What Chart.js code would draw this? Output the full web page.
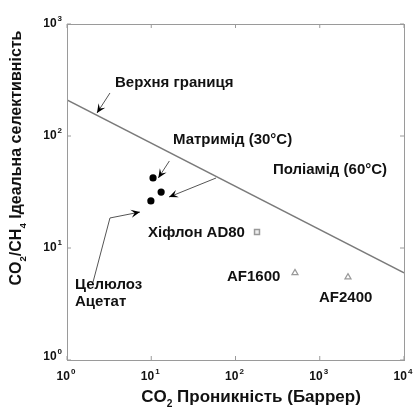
<!DOCTYPE html>
<html>
<head>
<meta charset="utf-8">
<script src="https://cdn.jsdelivr.net/npm/chart.js@4.4.1/dist/chart.umd.min.js"></script>
<style>
  body { margin: 0; background: #fff; }
  canvas { display: block; }
</style>
</head>
<body>
<canvas id="selChart" width="414" height="411"></canvas>
<script>
// data
var xTicks = [1, 10, 100, 1000, 10000];
var yTicks = [1, 10, 100, 1000];
var boundX = [1, 10000];            // Robeson upper bound
var boundY = [210, 6];
var dotX = [10.5, 13.1, 9.9];       // matrimid, polyimide, cellulose acetate
var dotY = [42.2, 31.6, 26.3];
var hyflonX = [180];
var hyflonY = [13.9];
var afX = [508, 2163];              // AF1600, AF2400
var afY = [6.0, 5.5];

// annotations in log10 units: text and arrows
var notes = [
  ['Верхня границя', 0.57, 2.473],
  ['Матримід (30°C)', 1.258, 1.964],
  ['Поліамід (60°C)', 2.445, 1.696],
  ['Хіфлон AD80', 0.961, 1.134],
  ['AF1600', 1.899, 0.741],
  ['AF2400', 2.991, 0.554],
  ['Целюлоз', 0.095, 0.670],
  ['Ацетат', 0.095, 0.518]
];
var arrows = [
  [[0.510, 2.384], [0.356, 2.205]],
  [[1.215, 1.777], [1.084, 1.625]],
  [[1.769, 1.625], [1.211, 1.455]],
  [[0.309, 0.696], [0.510, 1.268], [0.866, 1.321]]
];

var FONT = '"Liberation Sans", Arial, sans-serif';

function xy(points) {
  var xs = points[0], ys = points[1];
  return xs.map(function (v, i) { return { x: v, y: ys[i] }; });
}

function pow10Label(ctx, x, y, exp, align) {
  ctx.font = 'bold 12px ' + FONT;
  var w1 = ctx.measureText('10').width;
  ctx.font = 'bold 8px ' + FONT;
  var w2 = ctx.measureText(String(exp)).width;
  var start = align === 'right' ? x - w1 - w2 - 1 : x - (w1 + w2 + 1) / 2;
  ctx.textAlign = 'left';
  ctx.textBaseline = 'middle';
  ctx.font = 'bold 12px ' + FONT;
  ctx.fillText('10', start, y);
  ctx.font = 'bold 8px ' + FONT;
  ctx.fillText(String(exp), start + w1 + 1, y - 5);
}

// draws pieces like [['CO',0],['2',1],...] where 1 = subscript
function richText(ctx, parts, x, y, size) {
  var total = 0;
  parts.forEach(function (p) {
    ctx.font = 'bold ' + (p[1] ? size * 0.6 : size) + 'px ' + FONT;
    total += ctx.measureText(p[0]).width;
  });
  var cx = x - total / 2;
  ctx.textAlign = 'left';
  ctx.textBaseline = 'middle';
  parts.forEach(function (p) {
    ctx.font = 'bold ' + (p[1] ? size * 0.6 : size) + 'px ' + FONT;
    ctx.fillText(p[0], cx, p[1] ? y + size * 0.4 : y);
    cx += ctx.measureText(p[0]).width;
  });
}

function arrowHead(ctx, x0, y0, x1, y1) {
  var a = Math.atan2(y1 - y0, x1 - x0);
  var L = 9, W = 4;
  ctx.save();
  ctx.translate(x1, y1);
  ctx.rotate(a);
  ctx.beginPath();
  ctx.moveTo(0, 0);
  ctx.lineTo(-L, -W);
  ctx.lineTo(-L * 0.6, 0);
  ctx.lineTo(-L, W);
  ctx.closePath();
  ctx.fillStyle = '#000';
  ctx.fill();
  ctx.restore();
}

var decorPlugin = {
  id: 'decor',
  afterDraw: function (chart) {
    var ctx = chart.ctx, a = chart.chartArea;
    var sx = chart.scales.x, sy = chart.scales.y;
    ctx.save();
    // frame
    ctx.strokeStyle = '#9a9a9a';
    ctx.lineWidth = 1;
    ctx.strokeRect(a.left + 0.5, a.top + 0.5, a.right - a.left, a.bottom - a.top);
    // inner ticks + labels
    ctx.fillStyle = '#111';
    xTicks.forEach(function (v) {
      var px = sx.getPixelForValue(v);
      ctx.beginPath();
      ctx.moveTo(px, a.bottom); ctx.lineTo(px, a.bottom - 4);
      ctx.moveTo(px, a.top); ctx.lineTo(px, a.top + 4);
      ctx.stroke();
      pow10Label(ctx, px - 1, a.bottom + 17, Math.round(Math.log10(v)), 'center');
    });
    yTicks.forEach(function (v) {
      var py = sy.getPixelForValue(v);
      ctx.beginPath();
      ctx.moveTo(a.left, py); ctx.lineTo(a.left + 4, py);
      ctx.moveTo(a.right, py); ctx.lineTo(a.right - 4, py);
      ctx.stroke();
      pow10Label(ctx, a.left - 5, v === 1 ? py - 3 : py, Math.round(Math.log10(v)), 'right');
    });
    // axis titles
    richText(ctx, [['CO', 0], ['2', 1], [' Проникність (Баррер)', 0]], 251, 397, 17);
    ctx.save();
    ctx.translate(17, 158);
    ctx.rotate(-Math.PI / 2);
    richText(ctx, [['CO', 0], ['2', 1], ['/CH', 0], ['4', 1], [' Ідеальна селективність', 0]], 0, 0, 16);
    ctx.restore();
    // arrows
    arrows.forEach(function (pts) {
      var p = pts.map(function (q) {
        return [sx.getPixelForValue(Math.pow(10, q[0])), sy.getPixelForValue(Math.pow(10, q[1]))];
      });
      ctx.strokeStyle = '#555';
      ctx.lineWidth = 1;
      ctx.beginPath();
      ctx.moveTo(p[0][0], p[0][1]);
      for (var i = 1; i < p.length; i++) ctx.lineTo(p[i][0], p[i][1]);
      ctx.stroke();
      var n = p.length;
      arrowHead(ctx, p[n - 2][0], p[n - 2][1], p[n - 1][0], p[n - 1][1]);
    });
    // labels
    ctx.fillStyle = '#111';
    ctx.textAlign = 'left';
    ctx.textBaseline = 'middle';
    ctx.font = 'bold 15px ' + FONT;
    notes.forEach(function (n) {
      ctx.fillText(n[0], sx.getPixelForValue(Math.pow(10, n[1])), sy.getPixelForValue(Math.pow(10, n[2])));
    });
    ctx.restore();
  }
};

new Chart(document.querySelector('#selChart'), {
  type: 'scatter',
  data: {
    datasets: [
      {
        type: 'line',
        data: xy([boundX, boundY]),
        borderColor: '#7a7a7a',
        borderWidth: 1.3,
        pointRadius: 0,
        fill: false
      },
      {
        data: xy([dotX, dotY]),
        pointStyle: 'circle',
        pointRadius: 3.6,
        backgroundColor: '#000',
        borderColor: '#000',
        borderWidth: 0
      },
      {
        data: xy([hyflonX, hyflonY]),
        pointStyle: 'rect',
        pointRadius: 3.5,
        backgroundColor: '#eeeeee',
        borderColor: '#999',
        borderWidth: 1.5
      },
      {
        data: xy([afX, afY]),
        pointStyle: 'triangle',
        pointRadius: 3.5,
        backgroundColor: '#fff',
        borderColor: '#999',
        borderWidth: 1.2
      }
    ]
  },
  options: {
    responsive: false,
    animation: false,
    layout: { padding: { top: 24, right: 10, left: 0, bottom: 0 } },
    plugins: { legend: { display: false }, tooltip: { enabled: false } },
    scales: {
      x: {
        type: 'logarithmic', min: 1, max: 10000,
        grid: { display: false }, border: { display: false },
        ticks: { display: false },
        afterFit: function (s) { s.height = 51; }
      },
      y: {
        type: 'logarithmic', min: 1, max: 1000,
        grid: { display: false }, border: { display: false },
        ticks: { display: false },
        afterFit: function (s) { s.width = 67; }
      }
    }
  },
  plugins: [decorPlugin]
});
</script>
</body>
</html>
